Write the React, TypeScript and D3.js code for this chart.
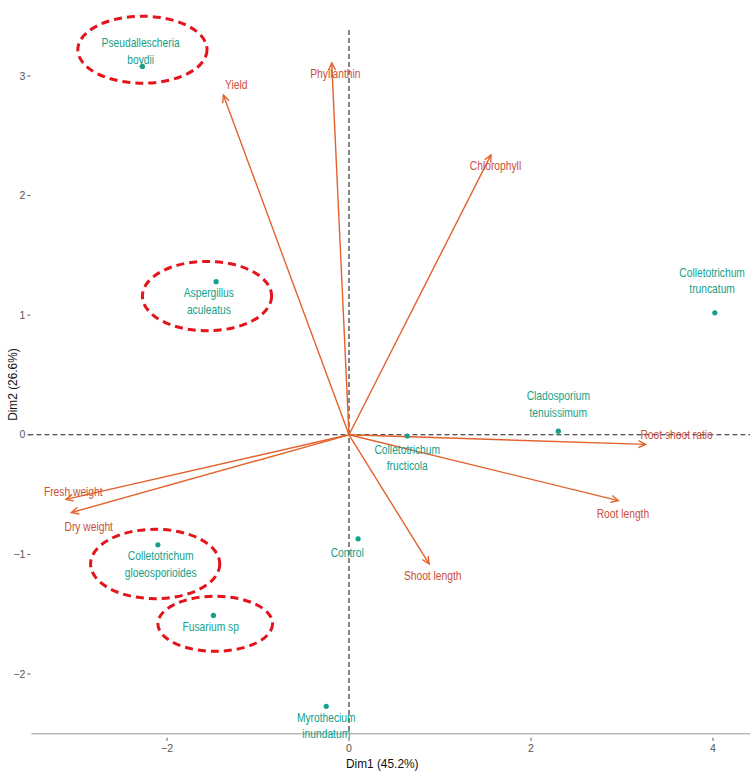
import React from "react";
import * as d3 from "d3";

// Individuals (Dim1, Dim2)
const indNames = [
  "Pseudallescheria boydii",
  "Aspergillus aculeatus",
  "Colletotrichum truncatum",
  "Cladosporium tenuissimum",
  "Colletotrichum fructicola",
  "Control",
  "Colletotrichum gloeosporioides",
  "Fusarium sp",
  "Myrothecium inundatum",
];
const indX = [-2.27, -1.46, 4.02, 2.3, 0.64, 0.1, -2.1, -1.49, -0.25];
const indY = [3.08, 1.28, 1.02, 0.03, -0.01, -0.87, -0.92, -1.51, -2.27];
const indLabelX = [-2.29, -1.54, 3.99, 2.3, 0.64, -0.02, -2.07, -1.52, -0.25];
const indLabelY = [3.21, 1.12, 1.29, 0.26, -0.19, -0.98, -1.08, -1.6, -2.43];

// Variables (arrow tips)
const varNames = [
  "Yield",
  "Phyllanthin",
  "Chlorophyll",
  "Root shoot ratio",
  "Root length",
  "Shoot length",
  "Fresh weight",
  "Dry weight",
];
const varX = [-1.38, -0.19, 1.56, 3.26, 2.96, 0.88, -3.11, -3.05];
const varY = [2.84, 3.11, 2.34, -0.08, -0.55, -1.08, -0.54, -0.65];
const varLabelX = [-1.24, -0.15, 1.61, 3.6, 3.01, 0.92, -3.03, -2.86];
const varLabelY = [2.93, 3.02, 2.25, 0.0, -0.66, -1.18, -0.47, -0.77];

// Highlight ellipses (centre, radii in data units)
const ellCX = [-2.27, -1.56, -2.13, -1.47];
const ellCY = [3.22, 1.16, -1.08, -1.58];
const ellRX = [0.71, 0.71, 0.71, 0.63];
const ellRY = [0.28, 0.29, 0.29, 0.23];

const xTicks = [-2, 0, 2, 4];
const yTicks = [-2, -1, 0, 1, 2, 3];
const xTitle = "Dim1 (45.2%)";
const yTitle = "Dim2 (26.6%)";

const W = 750;
const H = 776;

export default function App() {
  const x = d3.scaleLinear().domain([-2, 4]).range([167, 713]);
  const y = d3.scaleLinear().domain([-2, 3]).range([674, 76]);
  const panelLeft = x(-3.49);
  const panelRight = W;
  const panelBottom = y(-2.5);
  const panelTop = 30;

  const teal = "#14a08a";
  const arrowCol = "#e4612c";
  const varLabelCol = "#c9503c";
  const font = "'Liberation Sans', Arial, sans-serif";
  const sx = 0.79;
  const fs = 13;

  const arrowHead = (x0: number, y0: number, x1: number, y1: number) => {
    const ang = Math.atan2(y1 - y0, x1 - x0);
    const len = 8;
    const spread = Math.PI / 7;
    const a1 = ang + Math.PI - spread;
    const a2 = ang + Math.PI + spread;
    const p = d3.path();
    p.moveTo(x1 + len * Math.cos(a1), y1 + len * Math.sin(a1));
    p.lineTo(x1, y1);
    p.lineTo(x1 + len * Math.cos(a2), y1 + len * Math.sin(a2));
    return p.toString();
  };

  const lines = (name: string): string[] => {
    const parts = name.split(" ");
    if (name === "Fusarium sp" || parts.length === 1) return [name];
    return [parts[0], parts.slice(1).join(" ")];
  };

  return (
    <svg
      width={W}
      height={H}
      style={{ display: "block", position: "absolute", left: 0, top: 0, background: "#fff" }}
      fontFamily={font}
    >
      <rect x={0} y={0} width={W} height={H} fill="#fff" />
      {/* reference lines */}
      <line
        x1={panelLeft - 3}
        x2={panelRight}
        y1={y(0)}
        y2={y(0)}
        stroke="#222"
        strokeWidth={1.1}
        strokeDasharray="5,3"
      />
      <line
        x1={x(0)}
        x2={x(0)}
        y1={panelTop}
        y2={panelBottom}
        stroke="#222"
        strokeWidth={1.1}
        strokeDasharray="5,3"
      />
      {/* bottom axis */}
      <line x1={panelLeft} x2={panelRight} y1={panelBottom} y2={panelBottom} stroke="#999" strokeWidth={1} />
      {xTicks.map((t) => (
        <g key={"xt" + t}>
          <line x1={x(t)} x2={x(t)} y1={panelBottom + 4} y2={panelBottom + 7} stroke="#555" strokeWidth={1} />
          <text
            x={x(t)}
            y={panelBottom + 18}
            textAnchor="middle"
            fontSize={10.5}
            fill="#555"
          >
            {t < 0 ? "\u2212" + Math.abs(t) : String(t)}
          </text>
        </g>
      ))}
      {yTicks.map((t) => (
        <g key={"yt" + t}>
          <line x1={panelLeft - 4} x2={panelLeft - 1} y1={y(t)} y2={y(t)} stroke="#555" strokeWidth={1} />
          <text
            x={panelLeft - 6}
            y={y(t)}
            dy="0.35em"
            textAnchor="end"
            fontSize={10.5}
            fill="#555"
          >
            {t < 0 ? "\u2212" + Math.abs(t) : String(t)}
          </text>
        </g>
      ))}
      <text
        transform={`translate(${(panelLeft + 733) / 2},${panelBottom + 34}) scale(0.95,1)`}
        textAnchor="middle"
        fontSize={12.5}
        fill="#111"
      >
        {xTitle}
      </text>
      <text
        transform={`translate(17,${y(0.42)}) rotate(-90) scale(0.95,1)`}
        textAnchor="middle"
        fontSize={12.5}
        fill="#111"
      >
        {yTitle}
      </text>

      {/* arrows */}
      {varNames.map((n, i) => {
        const x0 = x(0);
        const y0 = y(0);
        const x1 = x(varX[i]);
        const y1 = y(varY[i]);
        return (
          <g key={"v" + i}>
            <line x1={x0} y1={y0} x2={x1} y2={y1} stroke={arrowCol} strokeWidth={1.4} />
            <path d={arrowHead(x0, y0, x1, y1)} fill="none" stroke={arrowCol} strokeWidth={1.4} />
          </g>
        );
      })}
      {varNames.map((n, i) => (
        <text
          key={"vl" + i}
          transform={`translate(${x(varLabelX[i])},${y(varLabelY[i])}) scale(${sx},1)`}
          dy="0.35em"
          textAnchor="middle"
          fontSize={fs}
          fill={varLabelCol}
        >
          {n}
        </text>
      ))}

      {/* individuals */}
      {indNames.map((n, i) => (
        <circle key={"p" + i} cx={x(indX[i])} cy={y(indY[i])} r={2.6} fill={teal} />
      ))}
      {indNames.map((n, i) => {
        const ls = lines(n);
        const cx = x(indLabelX[i]);
        const cy = y(indLabelY[i]);
        const lh = 16.5;
        const startY = cy - ((ls.length - 1) * lh) / 2;
        return (
          <g key={"il" + i}>
            {ls.map((l, j) => (
              <text
                key={j}
                transform={`translate(${cx},${startY + j * lh}) scale(${sx},1)`}
                dy="0.35em"
                textAnchor="middle"
                fontSize={fs}
                fill={teal}
              >
                {l}
              </text>
            ))}
          </g>
        );
      })}

      {/* highlight ellipses */}
      {ellCX.map((c, i) => (
        <ellipse
          key={"e" + i}
          cx={x(c)}
          cy={y(ellCY[i])}
          rx={x(ellRX[i]) - x(0)}
          ry={y(0) - y(ellRY[i])}
          fill="none"
          stroke="#e3141b"
          strokeWidth={3}
          strokeDasharray="8,5"
        />
      ))}
    </svg>
  );
}
